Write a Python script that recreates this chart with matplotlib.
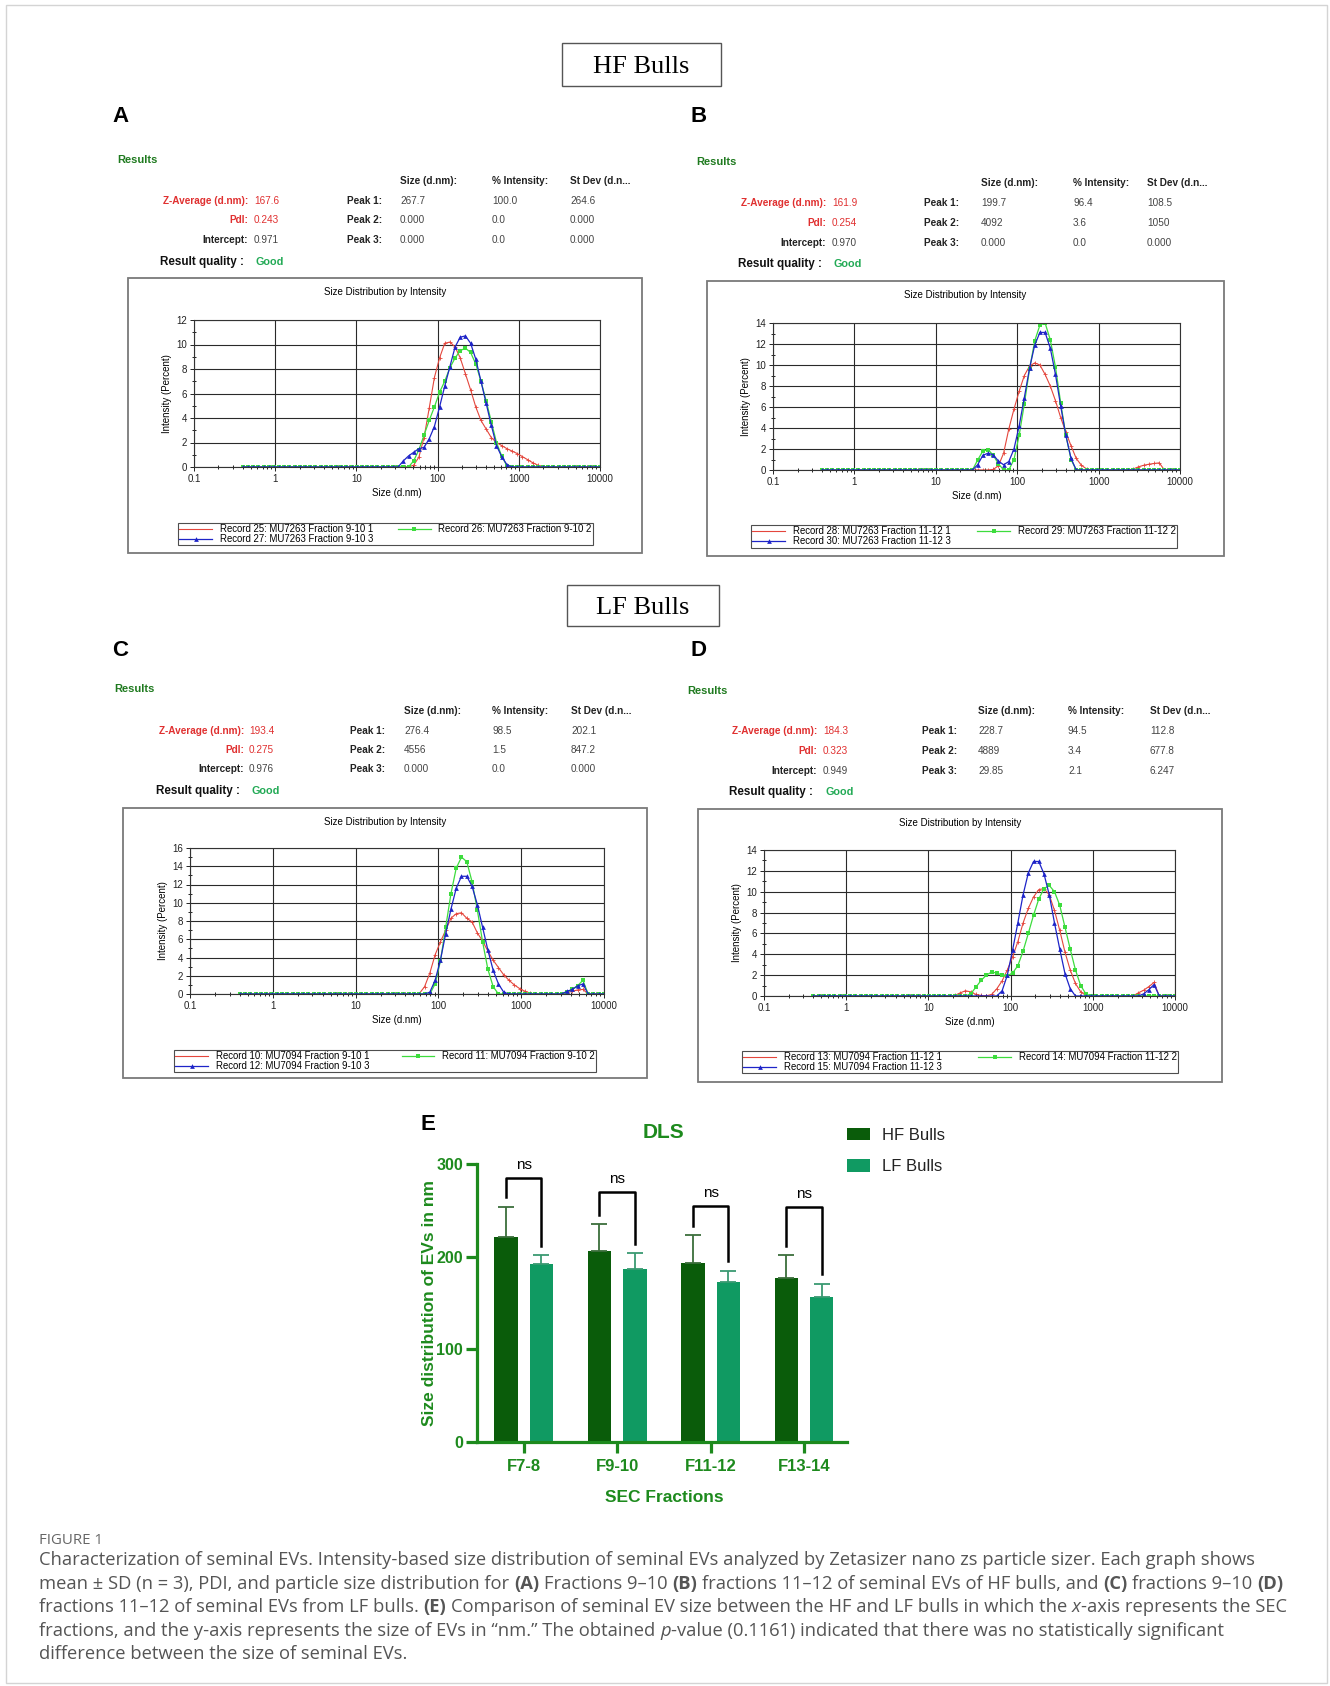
import numpy as np
import matplotlib
matplotlib.use('Agg')
import matplotlib.pyplot as plt
from matplotlib.patches import Rectangle
from matplotlib.ticker import FixedLocator, LogLocator, MultipleLocator, NullFormatter

# Zetasizer size bins (d.nm), 70 classes
sizes = [0.4, 0.4632, 0.5365, 0.6213, 0.7195, 0.8332, 0.9649, 1.117, 1.294, 1.499,
         1.736, 2.010, 2.328, 2.696, 3.122, 3.615, 4.187, 4.849, 5.615, 6.503,
         7.531, 8.721, 10.10, 11.70, 13.54, 15.69, 18.17, 21.04, 24.36, 28.21,
         32.67, 37.84, 43.82, 50.75, 58.77, 68.06, 78.82, 91.28, 105.7, 122.4,
         141.8, 164.2, 190.1, 220.2, 255.0, 295.3, 342.0, 396.1, 458.7, 531.2,
         615.1, 712.4, 825.0, 955.4, 1106, 1281, 1484, 1718, 1990, 2305,
         2669, 3091, 3580, 4145, 4801, 5560, 6439, 7456, 8635, 10000]

# panel A - HF bulls fraction 9-10
A_red = [0.0] * 33 + [0.15, 0.8, 2.4, 4.8, 7.3, 8.9, 10.1, 10.2, 9.8, 8.9, 7.6, 6.3, 4.9,
                      3.8, 3.1, 2.4, 2.0, 1.75, 1.5, 1.3, 1.1, 0.85, 0.6, 0.35, 0.15, 0.02] + [0.0] * 11
A_green = [0.0] * 33 + [0.5, 1.4, 2.6, 3.8, 4.9, 6.1, 7.0, 8.1, 8.9, 9.5, 9.7, 9.35, 8.4,
                        7.0, 5.4, 3.7, 2.0, 0.9, 0.1] + [0.0] * 18
A_blue = [0.0] * 31 + [0.5, 0.9, 1.2, 1.5, 1.6, 2.3, 3.3, 4.9, 6.6, 8.2, 9.8, 10.6, 10.7,
                       10.1, 8.8, 7.0, 5.2, 3.4, 1.75, 0.85, 0.2] + [0.0] * 18
# panel B - HF bulls fraction 11-12
B_red = [0.0] * 33 + [0.05, 0.4, 1.6, 3.9, 5.8, 7.5, 9.0, 9.9, 10.2, 10.0, 9.1, 8.0, 6.6,
                      5.0, 3.6, 2.3, 1.1, 0.45, 0.1] + [0.0] * 7 + \
        [0.0, 0.1, 0.3, 0.45, 0.55, 0.62, 0.68] + [0.0] * 4
B_green = [0.0] * 30 + [0.95, 1.8, 1.95, 1.4, 0.6, 0.0, 0.0, 1.0, 3.3, 6.3, 9.6, 12.3, 13.8,
                        14.0, 12.4, 9.8, 6.4, 3.3, 1.0, 0.0] + [0.0] * 20
B_blue = [0.0] * 30 + [0.5, 1.4, 1.6, 1.45, 0.85, 0.5, 0.8, 2.0, 4.2, 6.9, 9.7, 11.9, 13.1,
                       13.1, 11.6, 9.1, 6.1, 3.3, 1.1, 0.0] + [0.0] * 20
# panel C - LF bulls fraction 9-10
C_red = [0.0] * 34 + [0.05, 0.8, 2.3, 4.3, 5.7, 7.0, 8.3, 8.8, 8.9, 8.3, 7.9, 6.7, 5.8, 4.7,
                      3.7, 2.9, 2.1, 1.5, 1.0, 0.6, 0.3, 0.1, 0.0] + [0.0] * 5 + \
        [0.15, 0.3, 0.45, 0.5] + [0.0] * 4
C_green = [0.0] * 36 + [0.0, 1.1, 3.6, 7.3, 11.0, 13.8, 15.0, 14.5, 12.3, 9.2, 5.7, 2.7,
                        0.8] + [0.0] * 13 + [0.2, 0.5, 0.9, 1.5] + [0.0] * 4
C_blue = [0.0] * 36 + [0.2, 1.5, 3.7, 6.6, 9.3, 11.6, 12.9, 12.9, 11.8, 9.8, 7.3, 4.8, 2.6,
                       1.1, 0.2] + [0.0] * 11 + [0.3, 0.5, 0.9, 1.1] + [0.0] * 4
# panel D - LF bulls fraction 11-12
D_red = [0.0] * 27 + [0.05, 0.3, 0.5, 0.4, 0.15, 0.05, 0.02, 0.15, 0.7, 1.45, 2.5, 3.75,
                      5.2, 7.0, 8.4, 9.5, 10.2, 10.3, 9.7, 8.2, 6.3, 4.2, 2.5, 1.2, 0.4,
                      0.05, 0.0] + [0.0] * 8 + [0.3, 0.55, 0.9, 1.3] + [0.0] * 4
D_green = [0.0] * 30 + [0.2, 0.85, 1.5, 2.0, 2.3, 2.2, 2.0, 1.95, 2.2, 2.9, 4.3, 6.0, 7.75,
                        9.3, 10.3, 10.6, 10.0, 8.7, 6.6, 4.5, 2.5, 1.0, 0.2] + [0.0] * 17
D_blue = [0.0] * 36 + [0.5, 2.0, 4.4, 7.0, 9.7, 11.8, 12.9, 12.9, 11.7, 9.7, 7.0, 4.5, 2.15,
                       0.7] + [0.0] * 13 + [0.2, 0.6, 1.1] + [0.0] * 4

A_labels = ['Record 25: MU7263 Fraction 9-10 1', 'Record 26: MU7263 Fraction 9-10 2',
            'Record 27: MU7263 Fraction 9-10 3']
B_labels = ['Record 28: MU7263 Fraction 11-12 1', 'Record 29: MU7263 Fraction 11-12 2',
            'Record 30: MU7263 Fraction 11-12 3']
C_labels = ['Record 10: MU7094 Fraction 9-10 1', 'Record 11: MU7094 Fraction 9-10 2',
            'Record 12: MU7094 Fraction 9-10 3']
D_labels = ['Record 13: MU7094 Fraction 11-12 1', 'Record 14: MU7094 Fraction 11-12 2',
            'Record 15: MU7094 Fraction 11-12 3']

# result tables: z-average, pdi, intercept, peaks (size, % intensity, st dev)
A_res = ['167.6', '0.243', '0.971']
A_peaks = [['267.7', '100.0', '264.6'], ['0.000', '0.0', '0.000'], ['0.000', '0.0', '0.000']]
B_res = ['161.9', '0.254', '0.970']
B_peaks = [['199.7', '96.4', '108.5'], ['4092', '3.6', '1050'], ['0.000', '0.0', '0.000']]
C_res = ['193.4', '0.275', '0.976']
C_peaks = [['276.4', '98.5', '202.1'], ['4556', '1.5', '847.2'], ['0.000', '0.0', '0.000']]
D_res = ['184.3', '0.323', '0.949']
D_peaks = [['228.7', '94.5', '112.8'], ['4889', '3.4', '677.8'], ['29.85', '2.1', '6.247']]

# panel E - DLS mean size per SEC fraction
fractions = ['F7-8', 'F9-10', 'F11-12', 'F13-14']
hf_mean = [221, 206, 193, 177]
hf_sd = [33, 29, 30, 25]
lf_mean = [192, 187, 173, 157]
lf_sd = [10, 17, 12, 14]
bracket_top = [285, 270, 255, 254]

W, H = 1330, 1686
SANS = 'Liberation Sans'
RED, GREEN, BLUE = '#e4463c', '#3ddc3d', '#1e24c8'
fig = plt.figure(figsize=(W / 100, H / 100), dpi=100)
fig.patch.set_facecolor('white')


def txt(x, y, s, **kw):
    kw.setdefault('family', SANS)
    return fig.text(x / W, 1 - y / H, s, **kw)


def rect(l, t, r, b, **kw):
    fig.add_artist(Rectangle((l / W, 1 - b / H), (r - l) / W, (b - t) / H,
                             transform=fig.transFigure, fill=False, **kw))


def add_ax(l, t, r, b):
    return fig.add_axes([l / W, 1 - b / H, (r - l) / W, (b - t) / H])


def results(pos, res, peaks):
    rx, ry, hy, rows, lab_r, val_l, peak_r, cols = pos
    txt(rx, ry, 'Results', color='#1f7a1f', fontsize=8, fontweight='bold', va='center')
    for c, h in zip(cols, ['Size (d.nm):', '% Intensity:', 'St Dev (d.n...']):
        txt(c, hy, h, fontsize=7.2, fontweight='bold', color='#222', va='center')
    names = ['Z-Average (d.nm):', 'PdI:', 'Intercept:']
    ncol = ['#e03030', '#e03030', '#222']
    vcol = ['#e03030', '#e03030', '#444']
    for i in range(3):
        txt(lab_r, rows[i], names[i], fontsize=7.2, fontweight='bold', color=ncol[i],
            ha='right', va='center')
        txt(val_l, rows[i], res[i], fontsize=7.2, color=vcol[i], va='center')
        txt(peak_r, rows[i], 'Peak %d:' % (i + 1), fontsize=7.2, fontweight='bold',
            color='#222', ha='right', va='center')
        for c, v in zip(cols, peaks[i]):
            txt(c, rows[i], v, fontsize=7.2, color='#444', va='center')
    txt(lab_r - 4, rows[3], 'Result quality :', fontsize=8.4, fontweight='bold', color='#111',
        ha='right', va='center')
    txt(val_l + 2, rows[3], 'Good', fontsize=7.8, fontweight='bold', color='#22aa55', va='center')


def zeta(box, axb, legb, ymax, red, green, blue, labels):
    l, t, r, b = box
    rect(l, t, r, b, ec='#7a7a7a', lw=1.3)
    txt((l + r) / 2, t + 14, 'Size Distribution by Intensity', fontsize=7, ha='center', va='center')
    ax = add_ax(*axb)
    h1, = ax.plot(sizes, red, color=RED, lw=0.8)
    ax.plot(sizes, red, ls='none', marker='+', ms=3.5, mew=0.6, color=RED)
    h2, = ax.plot(sizes, green, color=GREEN, lw=0.9, marker='s', ms=3.2, mew=0)
    h3, = ax.plot(sizes, blue, color=BLUE, lw=0.9, marker='^', ms=3.4, mew=0)
    ax.set_xscale('log')
    ax.set_xlim(0.1, 10000)
    ax.set_ylim(0, ymax)
    ax.xaxis.set_major_locator(FixedLocator([0.1, 1, 10, 100, 1000, 10000]))
    ax.set_xticklabels(['0.1', '1', '10', '100', '1000', '10000'])
    ax.xaxis.set_minor_locator(LogLocator(base=10, subs=np.arange(2, 10)))
    ax.xaxis.set_minor_formatter(NullFormatter())
    ax.yaxis.set_major_locator(MultipleLocator(2))
    ax.yaxis.set_minor_locator(MultipleLocator(1))
    ax.tick_params(labelsize=7, length=3, width=0.7, pad=2, colors='#222')
    ax.tick_params(which='minor', length=2.5, width=0.6, direction='inout')
    for lab in ax.get_xticklabels() + ax.get_yticklabels():
        lab.set_family(SANS)
    ax.grid(True, which='major', color='#2a2a2a', lw=0.8)
    for s in ax.spines.values():
        s.set_color('#333')
        s.set_linewidth(0.8)
    ax.set_ylabel('Intensity (Percent)', fontsize=7, family=SANS, labelpad=3)
    txt((axb[0] + axb[2]) / 2, axb[3] + 26, 'Size (d.nm)', fontsize=7, ha='center', va='center')
    ll, lt, lr, lb = legb
    leg = fig.legend([h1, h3, h2], [labels[0], labels[2], labels[1]], ncol=2, mode='expand',
                     loc='center', bbox_to_anchor=(ll / W, 1 - lb / H, (lr - ll) / W, (lb - lt) / H),
                     prop={'family': SANS, 'size': 6.9}, frameon=True, fancybox=False,
                     edgecolor='#222', borderpad=0.15, labelspacing=0.0, handlelength=3.4,
                     handletextpad=0.8, columnspacing=1.2, numpoints=1, borderaxespad=0)
    leg.get_frame().set_linewidth(0.8)


# outer border
rect(6, 5, 1327, 1683, ec='#d4d4d4', lw=1)

# group headers
rect(562, 43, 721, 86, ec='#555', lw=1)
txt(641.5, 73, 'HF Bulls', family='Liberation Serif', fontsize=19, ha='center', va='baseline')
rect(567, 585, 719, 626, ec='#555', lw=1)
txt(643, 614, 'LF Bulls', family='Liberation Serif', fontsize=19, ha='center', va='baseline')

for lab, x, y in [('A', 112, 116), ('B', 691, 116), ('C', 112, 651), ('D', 691, 651)]:
    txt(x, y, lab, fontsize=16, fontweight='bold', va='center')

results((117, 160, 181, [201, 220, 240, 262], 248, 254, 382, [400, 492, 570]), A_res, A_peaks)
results((696, 162, 183, [203, 223, 243, 264], 826, 832, 959, [981, 1073, 1147]), B_res, B_peaks)
results((114, 689, 711, [731, 750, 769, 791], 244, 249, 385, [404, 492, 571]), C_res, C_peaks)
results((687, 691, 711, [731, 751, 771, 792], 817, 823, 957, [978, 1068, 1150]), D_res, D_peaks)

zeta((128, 278, 642, 553), (194, 320, 600, 467), (178, 522, 593, 546), 12, A_red, A_green, A_blue, A_labels)
zeta((707, 281, 1224, 556), (773, 323, 1180, 470), (751, 525, 1177, 548), 14, B_red, B_green, B_blue, B_labels)
zeta((123, 808, 647, 1078), (190, 848, 604, 994), (174, 1050, 596, 1072), 16, C_red, C_green, C_blue, C_labels)
zeta((698, 809, 1222, 1082), (764, 850, 1175, 996), (742, 1051, 1178, 1073), 14, D_red, D_green, D_blue, D_labels)

# panel E
EG = '#1d8a1d'
HFC, LFC = '#0a5c0a', '#109a62'
axe = add_ax(477, 1164, 847, 1442)
xs = np.arange(len(fractions))
off, bw = 0.19, 0.25
b1 = axe.bar(xs - off, hf_mean, bw, color=HFC, label='HF Bulls')
b2 = axe.bar(xs + off, lf_mean, bw, color=LFC, label='LF Bulls')
axe.errorbar(xs - off, hf_mean, yerr=[np.zeros(4), hf_sd], fmt='none', ecolor='#3c6e3c',
             elinewidth=1.3, capsize=5.5, capthick=1.3)
axe.errorbar(xs + off, lf_mean, yerr=[np.zeros(4), lf_sd], fmt='none', ecolor='#3a9a72',
             elinewidth=1.3, capsize=5.5, capthick=1.3)
for i in range(4):
    y1 = hf_mean[i] + hf_sd[i] + 10
    y2 = lf_mean[i] + lf_sd[i] + 10
    axe.plot([xs[i] - off, xs[i] - off, xs[i] + off, xs[i] + off],
             [y1, bracket_top[i], bracket_top[i], y2], color='black', lw=1.8, clip_on=False)
    axe.text(xs[i], bracket_top[i] + 6, 'ns', ha='center', va='bottom', fontsize=11, family=SANS)
axe.set_xlim(-0.5, 3.46)
axe.set_ylim(0, 300)
axe.set_yticks([0, 100, 200, 300])
axe.set_xticks(xs)
axe.set_xticklabels(fractions)
for s in ['top', 'right']:
    axe.spines[s].set_visible(False)
for s in ['left', 'bottom']:
    axe.spines[s].set_color(EG)
    axe.spines[s].set_linewidth(2.3)
axe.tick_params(axis='y', colors=EG, width=2.3, length=8, labelsize=11.5, pad=2)
axe.tick_params(axis='x', colors=EG, width=2.3, length=8, labelsize=12, pad=4)
for lab in axe.get_xticklabels() + axe.get_yticklabels():
    lab.set_family(SANS)
    lab.set_fontweight('bold')
txt(421, 1125, 'E', fontsize=16, fontweight='bold', va='center')
txt(664, 1132, 'DLS', fontsize=15, fontweight='bold', color=EG, ha='center', va='center')
txt(664, 1497, 'SEC Fractions', fontsize=12.5, fontweight='bold', color=EG, ha='center', va='center')
txt(429, 1303, 'Size distribution of EVs in nm', fontsize=12.5, fontweight='bold', color=EG,
    rotation=90, ha='center', va='center')
leg = axe.legend(loc='upper left', bbox_to_anchor=(840 / W, 1 - 1121 / H), bbox_transform=fig.transFigure,
                 frameon=False, prop={'family': SANS, 'size': 12}, handlelength=1.4, handleheight=0.75,
                 labelspacing=1.0, handletextpad=0.7, borderaxespad=0)
for t in leg.get_texts():
    t.set_color('#222')

# caption
CAP = 'Open Sans'
CAPC = '#555555'
txt(39, 1540, 'FIGURE 1', family=CAP, fontsize=10.8, color='#666', va='center')
cap_lines = [
    [('Characterization of seminal EVs. Intensity-based size distribution of seminal EVs analyzed by '
      'Zetasizer nano zs particle sizer. Each graph shows', 'normal', 'normal')],
    [('mean \u00b1 SD (n = 3), PDI, and particle size distribution for ', 'normal', 'normal'),
     ('(A)', 'bold', 'normal'), (' Fractions 9\u201310 ', 'normal', 'normal'), ('(B)', 'bold', 'normal'),
     (' fractions 11\u201312 of seminal EVs of HF bulls, and ', 'normal', 'normal'),
     ('(C)', 'bold', 'normal'), (' fractions 9\u201310 ', 'normal', 'normal'), ('(D)', 'bold', 'normal')],
    [('fractions 11\u201312 of seminal EVs from LF bulls. ', 'normal', 'normal'), ('(E)', 'bold', 'normal'),
     (' Comparison of seminal EV size between the HF and LF bulls in which the ', 'normal', 'normal'),
     ('x', 'normal', 'italic'), ('-axis represents the SEC', 'normal', 'normal')],
    [('fractions, and the y-axis represents the size of EVs in \u201cnm.\u201d The obtained ', 'normal', 'normal'),
     ('p', 'normal', 'italic'),
     ('-value (0.1161) indicated that there was no statistically significant', 'normal', 'normal')],
    [('difference between the size of seminal EVs.', 'normal', 'normal')],
]
renderer = fig.canvas.get_renderer()


def width_of(s, w, st, size):
    t = fig.text(0, 0, s, family=CAP, fontsize=size, fontweight=w, fontstyle=st)
    wd = t.get_window_extent(renderer=renderer).width
    t.remove()
    return wd


CAPS = 13.2
space_w = width_of('a a', 'normal', 'normal', CAPS) - width_of('aa', 'normal', 'normal', CAPS)
for i, runs in enumerate(cap_lines):
    x = 39
    y = 1565 + i * 23.6
    for s, w, st in runs:
        lead = len(s) - len(s.lstrip(' '))
        trail = len(s) - len(s.rstrip(' '))
        core = s.strip(' ')
        x += lead * space_w
        t = txt(x, y, core, family=CAP, fontsize=CAPS, fontweight=w, fontstyle=st, color=CAPC, va='baseline')
        x += t.get_window_extent(renderer=renderer).width + trail * space_w

fig.savefig('out.png', dpi=100, facecolor='white')
